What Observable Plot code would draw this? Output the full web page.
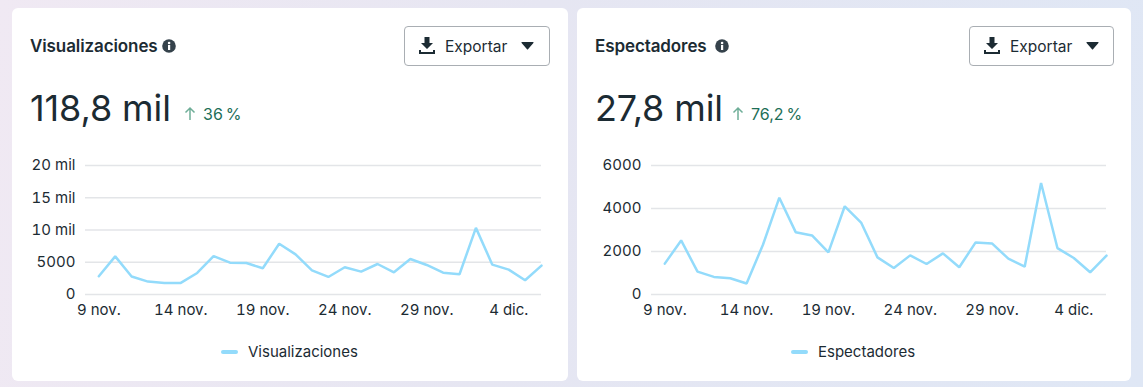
<!DOCTYPE html>
<html><head><meta charset="utf-8">
<script src="https://cdn.jsdelivr.net/npm/d3@7"></script>
<script src="https://cdn.jsdelivr.net/npm/@observablehq/plot@0.6"></script>
<style>
html,body{margin:0;padding:0;width:1143px;height:387px;overflow:hidden;font-family:Inter,sans-serif;color:#1c2b33;
background:linear-gradient(100deg,#f0e9f3 0%,#e6e6f2 45%,#dfe7f5 100%);}
.card{position:absolute;top:8px;height:373px;background:#fff;border-radius:6px;}
.abs{position:absolute;white-space:nowrap;}
.title{top:36px;font-size:17px;line-height:20px;font-weight:600;letter-spacing:-.1px;}
.big{top:86px;font-size:36px;line-height:44px;font-weight:400;letter-spacing:-.1px;}
.delta{top:104px;font-size:16px;line-height:20px;color:#1d6e57;}
.btn{top:26px;height:38px;border:1px solid #a9aeb3;border-radius:4px;background:#fff;box-sizing:content-box;}
.btn span{position:absolute;left:40px;top:10px;font-size:15.5px;line-height:19px;}
.leg{top:343px;font-size:15px;line-height:18px;}
.sw{position:absolute;top:350px;width:17px;height:4px;border-radius:2px;background:#93dbfb;}
.plot{position:absolute;top:150px;}
.plot svg{display:block;overflow:visible;}
</style></head><body>
<div class="card" style="left:12px;width:556px"></div>
<div class="card" style="left:577px;width:554px"></div>
<div id="chrome"></div>
<div id="p1" class="plot" style="left:12px"></div>
<div id="p2" class="plot" style="left:577px"></div>
<script>
const dates = ["2024-11-09","2024-11-10","2024-11-11","2024-11-12","2024-11-13","2024-11-14","2024-11-15","2024-11-16","2024-11-17","2024-11-18","2024-11-19","2024-11-20","2024-11-21","2024-11-22","2024-11-23","2024-11-24","2024-11-25","2024-11-26","2024-11-27","2024-11-28","2024-11-29","2024-11-30","2024-12-01","2024-12-02","2024-12-03","2024-12-04","2024-12-05","2024-12-06"];
const views = [2830,5910,2780,2000,1800,1800,3340,5960,4930,4880,4060,7870,6220,3750,2720,4220,3550,4730,3440,5500,4580,3390,3140,10330,4630,3860,2210,4470];
const viewers = [1435,2514,1064,818,756,509,2314,4504,2900,2746,1960,4103,3347,1728,1234,1820,1419,1913,1265,2422,2375,1666,1296,5183,2160,1697,1033,1805];
const xTickDates = ["2024-11-09","2024-11-14","2024-11-19","2024-11-24","2024-11-29","2024-12-04"];
const xTickLabels = ["9 nov.","14 nov.","19 nov.","24 nov.","29 nov.","4 dic."];
const viewTicks = [0,5000,10000,15000,20000];
const viewTickLabels = ["0","5000","10 mil","15 mil","20 mil"];
const viewerTicks = [0,2000,4000,6000];
const viewerTickLabels = ["0","2000","4000","6000"];

const D = s => new Date(s + "T00:00:00Z");
const xt = xTickDates.map(D);
function chart(el, values, yTicks, yLabels, yMax, width, mL, mR){
  const rows = dates.map((d,i)=>({date:D(d), value:values[i]}));
  const p = Plot.plot({
    width, height:175, marginTop:15, marginBottom:31, marginLeft:mL, marginRight:mR,
    style:{fontFamily:"Inter,sans-serif",fontSize:"15px",color:"#1c2b33",background:"transparent"},
    x:{type:"utc",domain:[new Date("2024-11-08T04:30:00Z"),D("2024-12-06")]},
    y:{domain:[0,yMax]},
    marks:[
      Plot.ruleY(yTicks,{stroke:"#e3e5e8",strokeWidth:1.5}),
      Plot.axisX({ticks:xt,tickSize:0,tickPadding:10,label:null,tickFormat:d=>xTickLabels[xt.findIndex(t=>+t===+d)],fill:"#1c2b33",fontSize:15,letterSpacing:"-0.2px"}),
      Plot.axisY({ticks:yTicks,tickSize:0,tickPadding:10,label:null,tickFormat:v=>yLabels[yTicks.indexOf(v)],fill:"#1c2b33",fontSize:15}),
      Plot.line(rows,{x:"date",y:"value",stroke:"#93dbfb",strokeWidth:2.5,strokeLinejoin:"miter"})
    ]
  });
  document.getElementById(el).appendChild(p);
}
chart("p1",views,viewTicks,viewTickLabels,20000,556,73,27);
chart("p2",viewers,viewerTicks,viewerTickLabels,6000,554,74,25);

const info = x => `<svg class="abs" style="left:${x}px;top:39px" width="14" height="14" viewBox="0 0 14 14"><circle cx="7" cy="7" r="6.8" fill="#35424b"/><rect x="6" y="6" width="2.2" height="5" fill="#fff"/><circle cx="7.1" cy="4" r="1.3" fill="#fff"/></svg>`;
const dl = `<svg style="position:absolute;left:14px;top:10px" width="16" height="18" viewBox="0 0 16 18"><path d="M5.5 0h5v6H14L8 12 2 6h3.5z" fill="#1c2b33"/><path d="M1 13v3h14v-3" fill="none" stroke="#1c2b33" stroke-width="2"/></svg>`;
const caret = `<svg style="position:absolute;left:116px;top:15px" width="13" height="8" viewBox="0 0 13 8"><path d="M1 0h11q1 0 .4 1L7.2 7q-.7 1-1.4 0L.6 1Q0 0 1 0z" fill="#1c2b33"/></svg>`;
const arrow = x => `<svg class="abs" style="left:${x}px;top:106px" width="12" height="15" viewBox="0 0 12 15"><path d="M6 14V2M1.5 6.5 6 2l4.5 4.5" fill="none" stroke="#6fae98" stroke-width="1.5"/></svg>`;
function head(x, title, big, delta, tw, bw, bx, deltaX, swX, legX){
  return `<div class="abs title" style="left:${x}px">${title}</div>${info(x+tw)}
  <div class="abs big" style="left:${x}px">${big}</div>${arrow(deltaX)}
  <div class="abs delta" style="left:${deltaX+19}px">${delta}</div>
  <div class="abs btn" style="left:${bx}px;width:${bw}px">${dl}<span>Exportar</span>${caret}</div>
  <div class="sw" style="left:${swX}px"></div><div class="abs leg" style="left:${legX}px">${title}</div>`;
}
document.getElementById("chrome").innerHTML =
  head(30,"Visualizaciones","118,8 mil","36\u202f%",132,144,404,184,221,248) +
  head(595,"Espectadores","27,8 mil","76,2\u202f%",120,143,969,732,791,818);
</script>
</body></html>
